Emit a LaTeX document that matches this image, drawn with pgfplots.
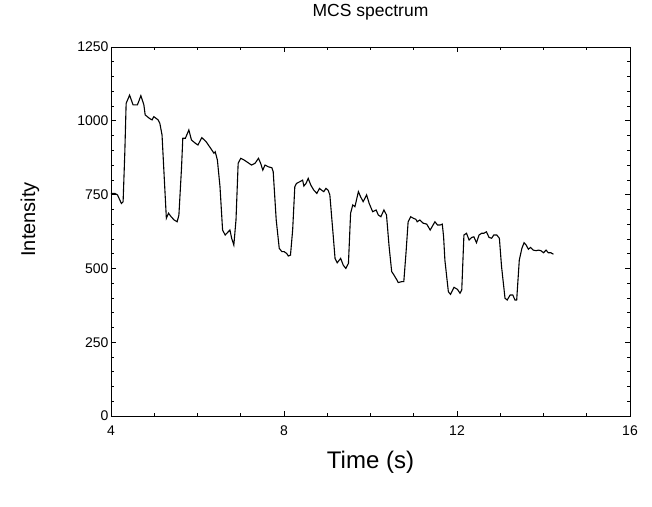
\documentclass[border=0pt]{standalone}
\usepackage{pgfplots}
\pgfplotsset{compat=1.18}
\usepackage{fontspec}
\setmainfont{Liberation Sans}
\begin{document}
\begin{tikzpicture}
\begin{axis}[
  name=main,
  scale only axis,
  width=519pt, height=369pt,
  xmin=4, xmax=16, ymin=0, ymax=1250,
  xtick={4,8,12,16}, ytick={0,250,500,750,1000,1250},
  minor x tick num=3, minor y tick num=4,
  tick align=inside, major tick length=5pt, minor tick length=3pt,
  tick style={black, line width=0.6pt},
  axis line style={line width=0.9pt},
  /pgf/number format/assume math mode=true,
  /pgf/number format/1000 sep={},
  ticklabel style={font=\fontsize{14}{16}\selectfont},
  xticklabel style={yshift=-6pt},
  yticklabel style={xshift=1pt},
  title={MCS spectrum},
  title style={font=\fontsize{17.5}{19}\selectfont, at={(0.5,1)}, anchor=base, yshift=24pt},
  xlabel={Time (s)},
  xlabel style={font=\fontsize{24}{26}\selectfont, at={(axis description cs:0.5,0)}, anchor=center, yshift=-46pt},
  ylabel={Intensity},
  ylabel style={font=\fontsize{20}{22}\selectfont, at={(axis description cs:-0.156,0.533)}, anchor=center},
]
\addplot[black, line width=1.1pt] coordinates {
(4.00,754) (4.09,754) (4.15,749) (4.24,720) (4.28,726) (4.32,895) (4.35,1059) (4.43,1087)
(4.51,1054) (4.61,1054) (4.64,1065) (4.69,1085) (4.76,1054) (4.79,1020) (4.89,1008) (4.95,1003)
(4.99,1014) (5.09,1003) (5.13,991) (5.18,952) (5.24,782) (5.28,670) (5.33,687) (5.39,675)
(5.46,664) (5.53,658) (5.57,681) (5.63,839) (5.66,941) (5.72,941) (5.80,969) (5.86,935)
(5.95,924) (6.01,918) (6.10,943) (6.20,929) (6.28,912) (6.38,890) (6.41,895) (6.46,867)
(6.52,777) (6.58,630) (6.64,613) (6.71,624) (6.75,630) (6.79,602) (6.84,579) (6.89,664)
(6.94,856) (7.00,873) (7.08,867) (7.17,858) (7.25,850) (7.33,856) (7.41,873) (7.46,856)
(7.51,833) (7.56,850) (7.64,844) (7.72,841) (7.75,828) (7.82,664) (7.89,568) (7.95,557)
(8.00,557) (8.06,551) (8.10,542) (8.15,545) (8.20,630) (8.25,777) (8.29,788) (8.37,794)
(8.43,799) (8.46,779) (8.51,788) (8.56,805) (8.62,782) (8.69,765) (8.76,754) (8.82,771)
(8.87,765) (8.92,760) (8.97,771) (9.02,765) (9.06,749) (9.14,607) (9.18,534) (9.23,519)
(9.31,534) (9.37,511) (9.43,500) (9.49,517) (9.54,687) (9.59,715) (9.64,709) (9.72,760)
(9.77,743) (9.83,726) (9.91,749) (9.97,720) (10.05,692) (10.13,698) (10.18,681) (10.24,675)
(10.31,698) (10.37,681) (10.43,574) (10.49,489) (10.54,478) (10.61,461) (10.64,452) (10.72,455)
(10.77,455) (10.82,551) (10.87,658) (10.93,675) (10.99,670) (11.05,666) (11.08,658) (11.14,664)
(11.22,653) (11.30,650) (11.38,630) (11.49,658) (11.55,647) (11.61,647) (11.66,650) (11.69,607)
(11.72,528) (11.80,421) (11.85,412) (11.93,436) (12.01,429) (12.07,416) (12.11,427) (12.16,613)
(12.22,619) (12.28,596) (12.34,605) (12.39,607) (12.45,587) (12.51,613) (12.57,619) (12.62,619)
(12.68,624) (12.74,605) (12.80,602) (12.85,613) (12.92,613) (12.98,602) (13.03,506) (13.11,399)
(13.16,393) (13.23,410) (13.29,410) (13.34,393) (13.38,393) (13.44,528) (13.50,568) (13.55,587)
(13.60,579) (13.65,565) (13.70,571) (13.76,562) (13.83,560) (13.88,562) (13.94,560) (14.00,553)
(14.06,562) (14.11,553) (14.17,553) (14.23,548)
};
\end{axis}
\pgfresetboundingbox
\path[use as bounding box] ([xshift=-111pt,yshift=-90pt]main.south west) rectangle ([xshift=22pt,yshift=47pt]main.north east);
\end{tikzpicture}
\end{document}
